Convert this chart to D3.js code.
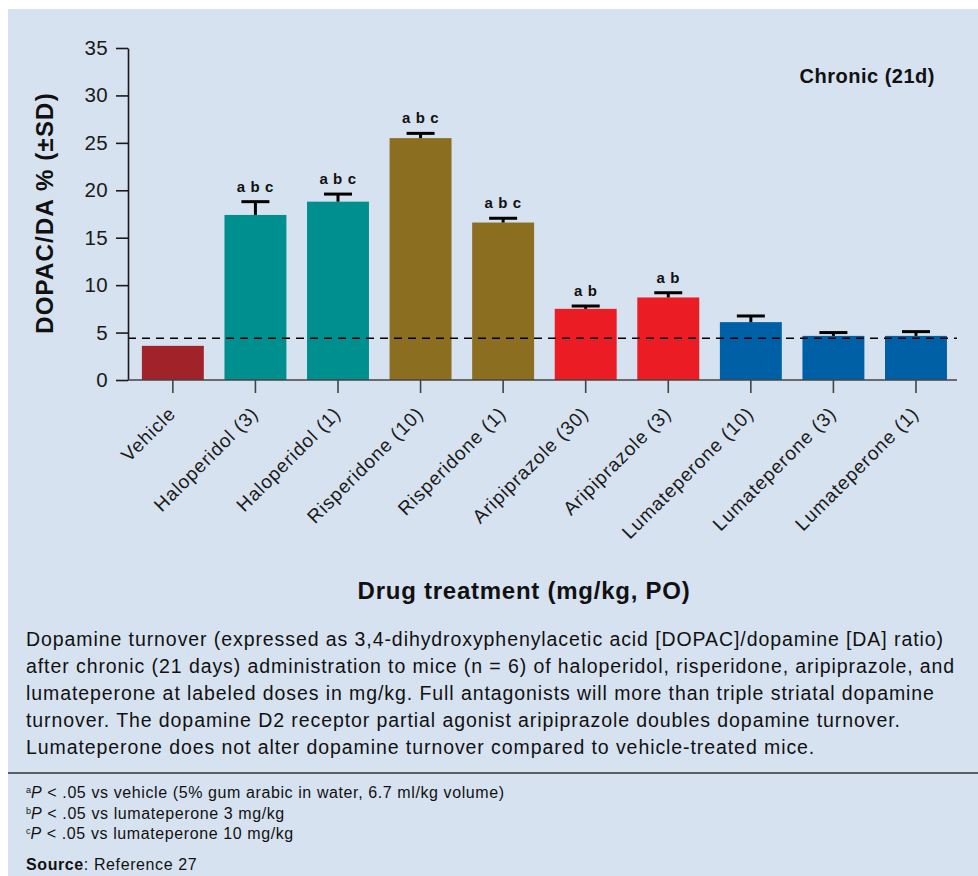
<!DOCTYPE html>
<html>
<head>
<meta charset="utf-8">
<script src="https://cdn.jsdelivr.net/npm/d3@7"></script>
<style>
  html, body { margin: 0; padding: 0; background: #ffffff; }
  svg { display: block; font-family: "Liberation Sans", Arial, Helvetica, sans-serif; }
</style>
</head>
<body>
<svg id="chart" width="978" height="876"></svg>
<script>
// ---- data ----
const categories = ["Vehicle", "Haloperidol (3)", "Haloperidol (1)", "Risperidone (10)", "Risperidone (1)",
  "Aripiprazole (30)", "Aripiprazole (3)", "Lumateperone (10)", "Lumateperone (3)", "Lumateperone (1)"];
const means = [3.6, 17.4, 18.8, 25.5, 16.6, 7.5, 8.7, 6.1, 4.65, 4.65];
const sdUpper = [0, 1.4, 0.8, 0.5, 0.45, 0.3, 0.5, 0.65, 0.35, 0.45];
const sigLabels = ["", "a b c", "a b c", "a b c", "a b c", "a b", "a b", "", "", ""];
const drugGroup = ["Vehicle", "Haloperidol", "Haloperidol", "Risperidone", "Risperidone",
  "Aripiprazole", "Aripiprazole", "Lumateperone", "Lumateperone", "Lumateperone"];
const groupNames = ["Vehicle", "Haloperidol", "Risperidone", "Aripiprazole", "Lumateperone"];
const groupColors = ["#a12228", "#008f8f", "#8c6e20", "#ec1c24", "#0060a6"];
const vehicleLine = 4.4;
const yTicks = [0, 5, 10, 15, 20, 25, 30, 35];
const captionLines = [
  "Dopamine turnover (expressed as 3,4-dihydroxyphenylacetic acid [DOPAC]/dopamine [DA] ratio)",
  "after chronic (21 days) administration to mice (n = 6) of haloperidol, risperidone, aripiprazole, and",
  "lumateperone at labeled doses in mg/kg. Full antagonists will more than triple striatal dopamine",
  "turnover. The dopamine D2 receptor partial agonist aripiprazole doubles dopamine turnover.",
  "Lumateperone does not alter dopamine turnover compared to vehicle-treated mice."
];
const footnotes = [
  ["a", "vs vehicle (5% gum arabic in water, 6.7 ml/kg volume)"],
  ["b", "vs lumateperone 3 mg/kg"],
  ["c", "vs lumateperone 10 mg/kg"]
];

// ---- drawing ----
const svg = d3.select("#chart");
const ink = "#1a1a1a";

svg.append("rect").attr("x", 8).attr("y", 9).attr("width", 970).attr("height", 867).attr("fill", "#d6e2ef");

const x = d3.scaleBand().domain(categories).range([128, 957])
  .paddingInner(0.25).paddingOuter(0.145).align(0.58);
const y = d3.scaleLinear().domain([0, 35]).range([380, 48]);
const color = d3.scaleOrdinal().domain(groupNames).range(groupColors);

// bars
svg.append("g").selectAll("rect").data(categories).join("rect")
  .attr("x", d => x(d)).attr("width", x.bandwidth())
  .attr("y", (d, i) => y(means[i])).attr("height", (d, i) => y(0) - y(means[i]))
  .attr("fill", (d, i) => color(drugGroup[i]));

// error bars (upper)
const eb = svg.append("g").attr("stroke", "#000").attr("stroke-width", 3);
categories.forEach((c, i) => {
  if (sdUpper[i] <= 0) return;
  const cx = x(c) + x.bandwidth() / 2;
  eb.append("line").attr("x1", cx).attr("x2", cx).attr("y1", y(means[i])).attr("y2", y(means[i] + sdUpper[i]));
  eb.append("line").attr("x1", cx - 14).attr("x2", cx + 14)
    .attr("y1", y(means[i] + sdUpper[i])).attr("y2", y(means[i] + sdUpper[i]));
});

// significance labels
svg.append("g").selectAll("text").data(categories).join("text")
  .attr("x", d => x(d) + x.bandwidth() / 2)
  .attr("y", (d, i) => y(means[i] + sdUpper[i]) - 10)
  .attr("text-anchor", "middle").attr("font-size", 15).attr("font-weight", "bold")
  .attr("letter-spacing", 0.6).attr("fill", "#111")
  .text((d, i) => sigLabels[i]);

// dashed vehicle line
svg.append("line").attr("x1", 128).attr("x2", 957).attr("y1", y(vehicleLine)).attr("y2", y(vehicleLine))
  .attr("stroke", "#000").attr("stroke-width", 1.5).attr("stroke-dasharray", "8,6");

// y axis
const yAxis = svg.append("g").attr("transform", "translate(128,0)")
  .call(d3.axisLeft(y).tickValues(yTicks).tickSize(12).tickSizeOuter(0).tickPadding(8));
yAxis.select(".domain").attr("stroke", ink).attr("stroke-width", 1.6);
yAxis.selectAll(".tick line").attr("stroke", ink).attr("stroke-width", 1.6);
yAxis.selectAll(".tick text").attr("font-size", 20.5).attr("fill", ink).attr("letter-spacing", 0.4)
  .attr("font-family", "'Liberation Sans', Arial, sans-serif");

// x axis
const xAxis = svg.append("g").attr("transform", "translate(0,380)")
  .call(d3.axisBottom(x).tickSize(13).tickSizeOuter(0).tickFormat(""));
xAxis.select(".domain").attr("stroke", "#444").attr("stroke-width", 1.6).attr("d", "M128,0H957");
xAxis.selectAll(".tick line").attr("stroke", "#444").attr("stroke-width", 1.6);

// x labels
svg.append("g").selectAll("text").data(categories).join("text")
  .attr("transform", d => `translate(${x(d) + x.bandwidth() / 2 + 4},415) rotate(-45)`)
  .attr("text-anchor", "end").attr("font-size", 19).attr("letter-spacing", 0.9).attr("fill", ink)
  .text(d => d);

// axis titles
svg.append("text").attr("transform", "translate(53,213) rotate(-90)")
  .attr("text-anchor", "middle").attr("font-size", 24).attr("font-weight", "bold").attr("fill", "#111")
  .attr("letter-spacing", 1.2)
  .text("DOPAC/DA % (±SD)");
svg.append("text").attr("x", 524).attr("y", 599)
  .attr("text-anchor", "middle").attr("font-size", 24).attr("font-weight", "bold").attr("fill", "#111")
  .attr("letter-spacing", 0.75)
  .text("Drug treatment (mg/kg, PO)");
svg.append("text").attr("x", 935).attr("y", 83)
  .attr("text-anchor", "end").attr("font-size", 20).attr("font-weight", "bold").attr("fill", "#111")
  .attr("letter-spacing", 0.5)
  .text("Chronic (21d)");

// caption
svg.append("g").selectAll("text").data(captionLines).join("text")
  .attr("x", 26).attr("y", (d, i) => 646 + i * 27)
  .attr("font-size", 19.5).attr("letter-spacing", 0.92).attr("fill", "#111").text(d => d);

// rule
svg.append("line").attr("x1", 8).attr("x2", 978).attr("y1", 773).attr("y2", 773)
  .attr("stroke", "#333").attr("stroke-width", 1.5);

// footnotes
const fn = svg.append("g").selectAll("text").data(footnotes).join("text")
  .attr("x", 26).attr("y", (d, i) => 798 + i * 20.5)
  .attr("font-size", 16).attr("letter-spacing", 0.6).attr("fill", "#111");
fn.append("tspan").attr("font-size", 9).attr("dy", -5).attr("letter-spacing", 0).text(d => d[0]);
fn.append("tspan").attr("font-style", "italic").attr("dy", 5).text("P");
fn.append("tspan").text(d => " < .05 " + d[1]);

const src = svg.append("text").attr("x", 26).attr("y", 870).attr("font-size", 16)
  .attr("letter-spacing", 0.6).attr("fill", "#111");
src.append("tspan").attr("font-weight", "bold").text("Source");
src.append("tspan").text(": Reference 27");
</script>
</body>
</html>
